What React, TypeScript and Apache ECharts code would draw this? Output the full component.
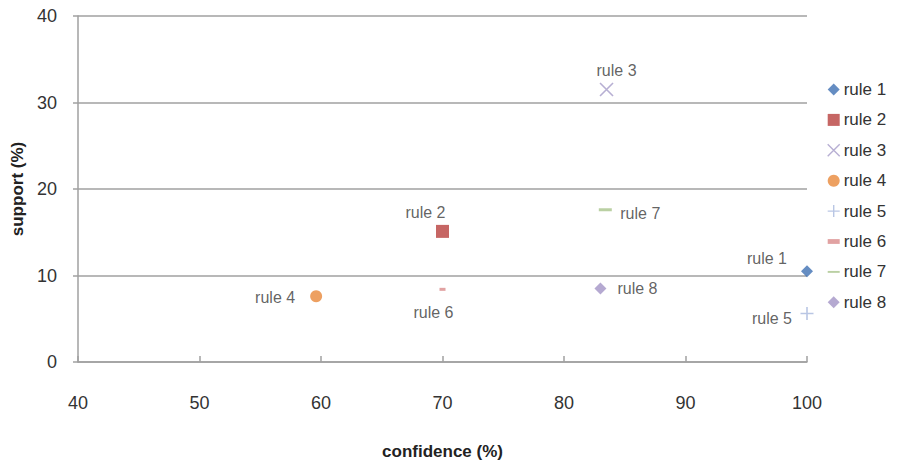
import React, { useEffect, useRef } from "react";
import * as echarts from "echarts";

// Association rules: confidence vs. support
const ruleNames = ["rule 1", "rule 2", "rule 3", "rule 4", "rule 5", "rule 6", "rule 7", "rule 8"];
const confidence = [100, 70, 83.5, 59.6, 100, 70, 83.4, 83.0];
const support = [10.5, 15.1, 31.5, 7.6, 5.6, 8.4, 17.6, 8.5];

const xTicks = { min: 40, max: 100, interval: 10 };
const yTicks = { min: 0, max: 40, interval: 10 };

// Marker styling per rule
const colors = ["#3f70b3", "#b8403d", "#a59bc8", "#e8883a", "#a8b8dd", "#d98b8b", "#a9c48c", "#a294c6"];
const symbols = [
  "diamond",
  "rect",
  "path://M0,0L10,10M10,0L0,10",
  "circle",
  "path://M5,0L5,10M0,5L10,5",
  "rect",
  "rect",
  "diamond",
];
const legendIcons = [
  "diamond",
  "rect",
  "path://M0,0L10,10M10,0L0,10",
  "circle",
  "path://M5,0L5,10M0,5L10,5",
  "path://M2,3.8L8,3.8L8,6.2L2,6.2Z",
  "path://M0,4.2L10,4.2L10,5.8L0,5.8Z",
  "diamond",
];
const symbolSizes: (number | number[])[] = [12, 13, 13, 12, 13, [6, 3], [13, 3], 12];
const strokeOnly = [false, false, true, false, true, false, false, false];
// label offsets relative to the marker centre
const labelOffsets = [
  [-40, -13],
  [-17, -19],
  [10, -19],
  [-41, 1],
  [-35, 5],
  [-9, 23],
  [35, 4],
  [37, 0],
];

const FONT = "Liberation Sans, Arial, sans-serif";

export default function App() {
  const ref = useRef<HTMLDivElement>(null);

  useEffect(() => {
    if (!ref.current) return;
    const chart = echarts.init(ref.current, undefined, { renderer: "svg" });

    const series = ruleNames.map((name, i) => ({
      name,
      type: "scatter",
      data: [[confidence[i], support[i]]],
      symbol: symbols[i],
      symbolSize: symbolSizes[i],
      itemStyle: strokeOnly[i]
        ? { color: "rgba(0,0,0,0)", borderColor: colors[i], borderWidth: 1.6 }
        : { color: colors[i] },
      label: {
        show: true,
        formatter: name,
        position: "inside",
        offset: labelOffsets[i],
        color: "#3a3a3a",
        fontFamily: FONT,
        fontSize: 16,
      },
      emphasis: { disabled: true },
    }));

    chart.setOption({
      animation: false,
      backgroundColor: "#ffffff",
      textStyle: { fontFamily: FONT },
      grid: { left: 78, right: 90, top: 16, bottom: 102, outerBoundsMode: "none", containLabel: false },
      legend: {
        orient: "vertical",
        left: 822,
        top: 76,
        itemWidth: 12,
        itemHeight: 12,
        itemGap: 13.4,
        textStyle: { fontSize: 17, color: "#333333", padding: [0, 0, 0, -1] },
        data: ruleNames.map((n, i) => ({
          name: n,
          icon: legendIcons[i],
          itemStyle: strokeOnly[i]
            ? { color: "rgba(0,0,0,0)", borderColor: colors[i], borderWidth: 1.4 }
            : { color: colors[i] },
        })),
      },
      xAxis: {
        type: "value",
        min: xTicks.min,
        max: xTicks.max,
        interval: xTicks.interval,
        name: "confidence (%)",
        nameLocation: "middle",
        nameGap: 81,
        nameTextStyle: { fontSize: 17, fontWeight: "bold", color: "#222222" },
        axisLine: { show: true, lineStyle: { color: "#a0a0a0", width: 1.5 } },
        axisTick: { show: true, inside: true, length: 6, lineStyle: { color: "#a0a0a0", width: 1.5 } },
        axisLabel: { margin: 32, fontSize: 18, color: "#333333" },
        splitLine: { show: false },
      },
      yAxis: {
        type: "value",
        min: yTicks.min,
        max: yTicks.max,
        interval: yTicks.interval,
        name: "support (%)",
        nameLocation: "middle",
        nameRotate: 90,
        nameGap: 52,
        nameTextStyle: { fontSize: 17, fontWeight: "bold", color: "#222222" },
        axisLine: { show: true, lineStyle: { color: "#a0a0a0", width: 1.5 } },
        axisTick: { show: true, inside: false, length: 5, lineStyle: { color: "#a0a0a0", width: 1.5 } },
        axisLabel: { margin: 21, fontSize: 18, color: "#333333" },
        splitLine: { show: true, lineStyle: { color: "#a0a0a0", width: 1.5 } },
      },
      series,
    });

    return () => chart.dispose();
  }, []);

  return (
    <div
      ref={ref}
      style={{ position: "fixed", left: 0, top: 0, width: 897, height: 464 }}
    />
  );
}
